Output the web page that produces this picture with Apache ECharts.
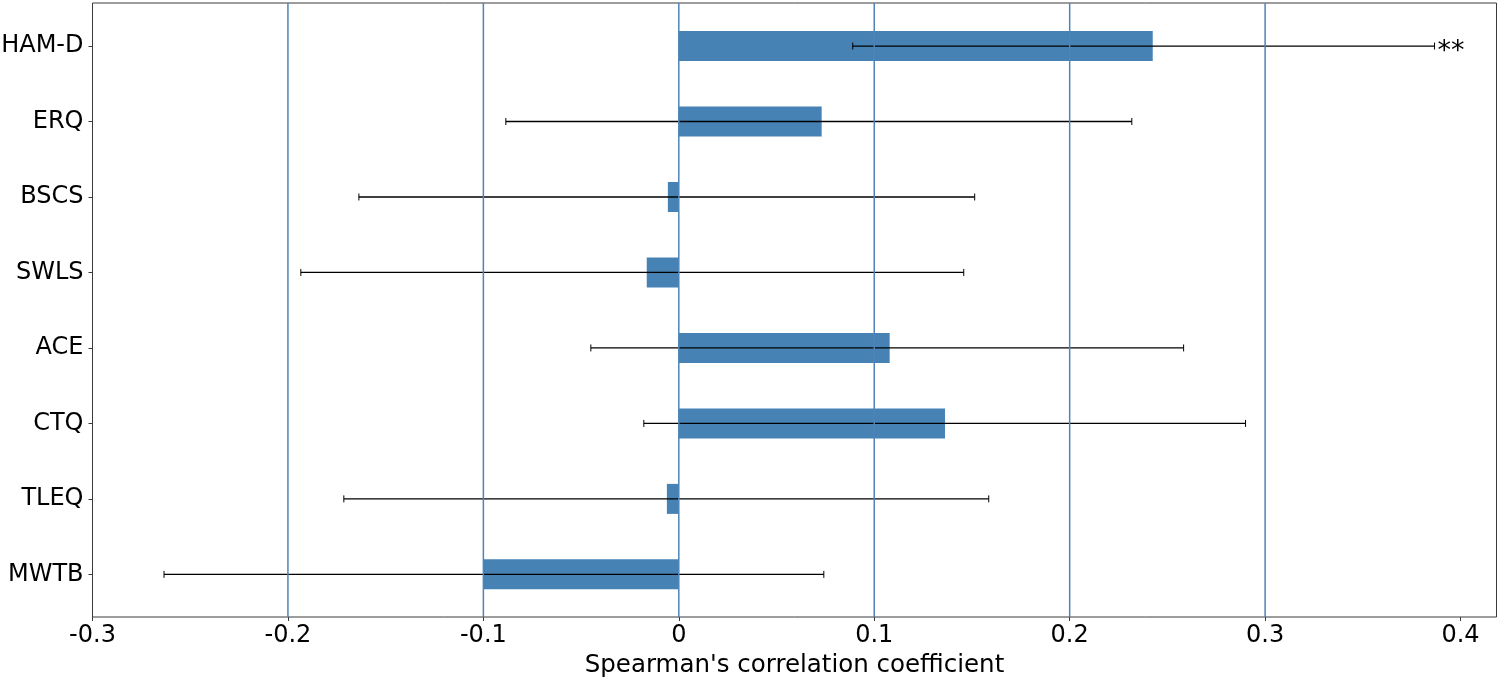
<!DOCTYPE html>
<html><head><meta charset="utf-8">
<script src="https://cdn.jsdelivr.net/npm/echarts@6/dist/echarts.min.js"></script>
<style>html,body{margin:0;padding:0;background:#fff}#c{width:1500px;height:677px}</style>
</head><body><div id="c"></div>
<script>
const categories = ['HAM-D','ERQ','BSCS','SWLS','ACE','CTQ','TLEQ','MWTB'];
const rho = [0.2425, 0.0731, -0.0056, -0.0164, 0.1079, 0.1362, -0.0061, -0.0997];
const ciLow = [0.0890, -0.0885, -0.1637, -0.1934, -0.0450, -0.0179, -0.1714, -0.2634];
const ciHigh = [0.3867, 0.2318, 0.1514, 0.1458, 0.2583, 0.2900, 0.1586, 0.0742];
const significance = ['**','','','','','','',''];
const refLines = [-0.2, -0.1, 0, 0.1, 0.2, 0.3];
const xMin = -0.3, xMax = 0.4184, xStep = 0.1;
const xTitle = "Spearman's correlation coefficient";

const FONT = 'DejaVu Sans';
const L = 92.5, R = 3.5;
const chart = echarts.init(document.getElementById('c'), null, {renderer:'canvas'});

const errData = categories.map((c,i)=>[ciLow[i], ciHigh[i], i]);

chart.setOption({
  backgroundColor:'#fff',
  animation:false,
  tooltip:{show:false},
  grid:[
    {left:L, right:R, top:3, bottom:60, show:true, borderColor:'#3a3a3a', borderWidth:1, backgroundColor:'transparent', containLabel:false, outerBoundsMode:'none'},
    {left:L, right:R, top:8.3, height:603.8, show:false, containLabel:false, outerBoundsMode:'none'}
  ],
  xAxis:[
    {gridIndex:0, type:'value', min:xMin, max:xMax, interval:xStep,
     axisLine:{show:false}, splitLine:{show:false},
     axisTick:{show:true, length:4, lineStyle:{color:'#3a3a3a'}},
     axisLabel:{fontFamily:FONT, fontSize:24, color:'#000', margin:7,
       formatter:v=>{const r=Math.round(v*10)/10; return r===0?'0':r.toFixed(1);}},
     name:xTitle, nameLocation:'middle', nameGap:33,
     nameTextStyle:{fontFamily:FONT, fontSize:24.5, color:'#000'}},
    {gridIndex:1, type:'value', min:xMin, max:xMax, show:false,
     axisLine:{show:false}, axisTick:{show:false}, axisLabel:{show:false}, splitLine:{show:false}}
  ],
  yAxis:[
    {gridIndex:0, type:'value', min:0, max:1, show:false, splitLine:{show:false}},
    {gridIndex:1, type:'category', data:categories, inverse:true,
     axisLine:{show:false, onZero:false},
     axisTick:{show:true, alignWithLabel:true, length:4, lineStyle:{color:'#3a3a3a'}},
     axisLabel:{fontFamily:FONT, fontSize:24, color:'#000', margin:9, padding:[2,0,0,0]},
     splitLine:{show:false}}
  ],
  series:[
    {type:'bar', xAxisIndex:1, yAxisIndex:1, data:rho, barWidth:30,
     itemStyle:{color:'#4682B4'}, z:2},
    {type:'custom', xAxisIndex:1, yAxisIndex:1, data:errData, z:3,
     renderItem:(params, api)=>{
       const lo = api.coord([api.value(0), api.value(2)]);
       const hi = api.coord([api.value(1), api.value(2)]);
       const y = lo[1], h = 3.5;
       const children = [
         {type:'line', shape:{x1:lo[0], y1:y, x2:hi[0], y2:y}, style:{stroke:'#000', lineWidth:1.3}},
         {type:'line', shape:{x1:lo[0], y1:y-h, x2:lo[0], y2:y+h}, style:{stroke:'#000', lineWidth:1}},
         {type:'line', shape:{x1:hi[0], y1:y-h, x2:hi[0], y2:y+h}, style:{stroke:'#000', lineWidth:1}}
       ];
       const s = significance[params.dataIndex];
       if (s) children.push({type:'text', style:{text:s, x:hi[0]+3, y:y+6, fontFamily:FONT, fontSize:27, fill:'#000', textAlign:'left', textVerticalAlign:'middle'}});
       return {type:'group', children};
     }},
    {type:'custom', xAxisIndex:0, yAxisIndex:0, data:refLines.map(v=>[v, 0, 1]), z:4,
     renderItem:(params, api)=>{
       const a = api.coord([api.value(0), api.value(1)]);
       const b = api.coord([api.value(0), api.value(2)]);
       return {type:'line', shape:{x1:a[0], y1:a[1], x2:b[0], y2:b[1]}, style:{stroke:'#4f84b9', lineWidth:1.5}};
     }}
  ]
});
</script></body></html>
